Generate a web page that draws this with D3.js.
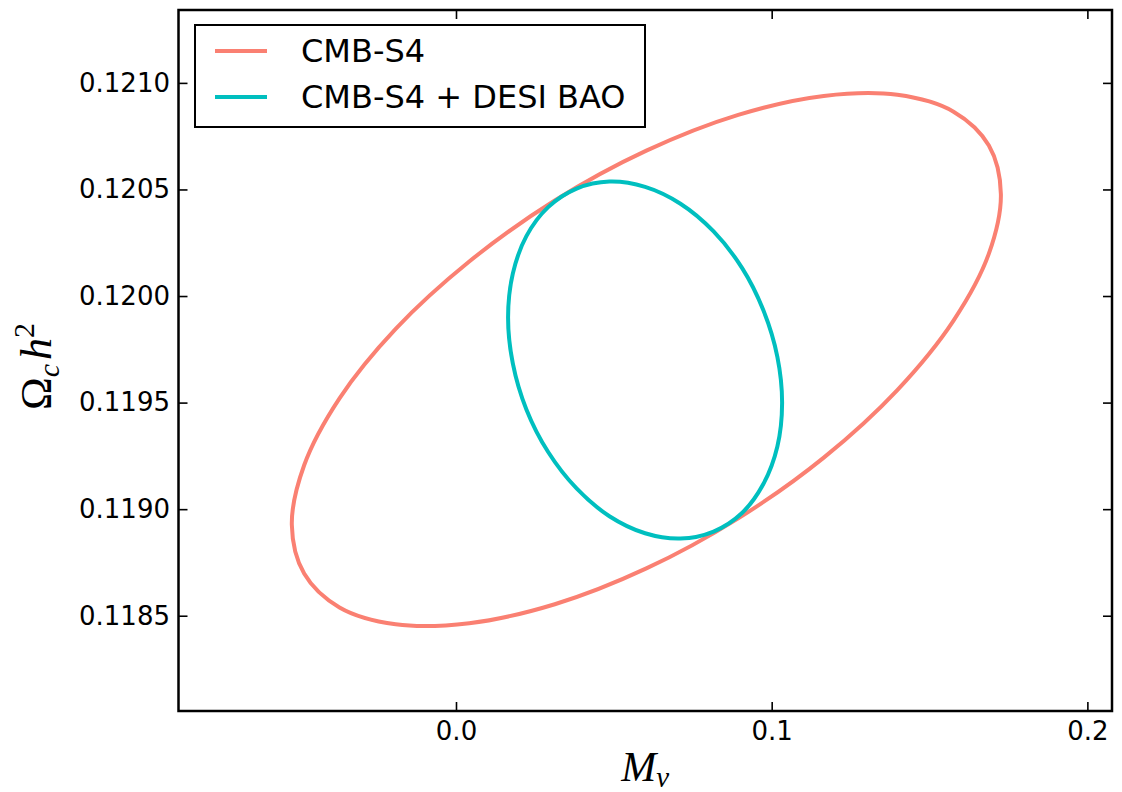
<!DOCTYPE html>
<html>
<head>
<meta charset="utf-8">
<script src="https://cdn.jsdelivr.net/npm/d3@7"></script>
<style>
  body { margin: 0; background: #fff; }
  svg { display: block; }
  .tick text { font-family: "DejaVu Sans", sans-serif; font-size: 26px; fill: #000; }
  .tick line { stroke: #000; stroke-width: 1.6; }
</style>
</head>
<body>
<svg id="chart" width="1122" height="792"></svg>
<script>
// contour points (M_nu, Omega_c h^2)
const s4X = [0.1726, 0.1688, 0.1576, 0.1398, 0.1165, 0.0894, 0.0603, 0.0313, 0.0042, -0.0191, -0.0369, -0.0481,
  -0.0520, -0.0481, -0.0369, -0.0191, 0.0042, 0.0313, 0.0603, 0.0894, 0.1165, 0.1398, 0.1576, 0.1688];
const s4Y = [0.120479, 0.120199, 0.119885, 0.119559, 0.119242, 0.118957, 0.118722, 0.118554, 0.118465, 0.118460, 0.118539, 0.118698,
  0.118926, 0.119206, 0.119520, 0.119846, 0.120162, 0.120448, 0.120682, 0.120850, 0.120939, 0.120944, 0.120865, 0.120706];

const desiX = [0.1033, 0.1018, 0.0974, 0.0906, 0.0816, 0.0711, 0.0599, 0.0486, 0.0382, 0.0292, 0.0223, 0.0180,
  0.0165, 0.0180, 0.0223, 0.0292, 0.0382, 0.0486, 0.0599, 0.0711, 0.0816, 0.0906, 0.0974, 0.1018];
const desiY = [0.119498, 0.119294, 0.119119, 0.118982, 0.118895, 0.118862, 0.118887, 0.118967, 0.119097, 0.119268, 0.119468, 0.119684,
  0.119902, 0.120105, 0.120281, 0.120417, 0.120504, 0.120537, 0.120512, 0.120433, 0.120303, 0.120132, 0.119932, 0.119715];

const seriesNames = ['CMB-S4', 'CMB-S4 + DESI BAO'];
const seriesColors = ['#fa8072', '#00bfbf'];

const xTicks = [0.0, 0.1, 0.2];
const yTicks = [0.1185, 0.1190, 0.1195, 0.1200, 0.1205, 0.1210];
const xDomain = [-0.0879, 0.2078];
const yDomain = [0.118053, 0.121342];

const plot = { left: 178.5, right: 1112, top: 10, bottom: 711 };

const svg = d3.select('#chart');

const x = d3.scaleLinear().domain(xDomain).range([plot.left, plot.right]);
const y = d3.scaleLinear().domain(yDomain).range([plot.bottom, plot.top]);

const series = [
  d3.zip(s4X, s4Y),
  d3.zip(desiX, desiY),
];

const line = d3.line()
  .x((d) => x(d[0]))
  .y((d) => y(d[1]))
  .curve(d3.curveCatmullRomClosed);

series.forEach((pts, i) => {
  svg.append('path')
    .datum(pts)
    .attr('d', line)
    .attr('fill', 'none')
    .attr('stroke', seriesColors[i])
    .attr('stroke-width', 4);
});

// axes, ticks pointing inward on all four sides
const bottomAxis = svg.append('g')
  .attr('transform', `translate(0,${plot.bottom})`)
  .call(d3.axisBottom(x).tickValues(xTicks).tickFormat(d3.format('.1f')).tickSize(-9).tickPadding(10.5));
const topAxis = svg.append('g')
  .attr('transform', `translate(0,${plot.top})`)
  .call(d3.axisTop(x).tickValues(xTicks).tickFormat('').tickSize(-9));
const leftAxis = svg.append('g')
  .attr('transform', `translate(${plot.left},0)`)
  .call(d3.axisLeft(y).tickValues(yTicks).tickFormat(d3.format('.4f')).tickSize(-9).tickPadding(8.5));
const rightAxis = svg.append('g')
  .attr('transform', `translate(${plot.right},0)`)
  .call(d3.axisRight(y).tickValues(yTicks).tickFormat('').tickSize(-9));
[bottomAxis, topAxis, leftAxis, rightAxis].forEach((g) => g.select('.domain').remove());

svg.append('rect')
  .attr('x', plot.left)
  .attr('y', plot.top)
  .attr('width', plot.right - plot.left)
  .attr('height', plot.bottom - plot.top)
  .attr('fill', 'none')
  .attr('stroke', '#000')
  .attr('stroke-width', 2.5);

// axis labels
const xLabel = svg.append('text')
  .attr('x', (plot.left + plot.right) / 2)
  .attr('y', 781)
  .attr('text-anchor', 'middle')
  .attr('font-family', '"Liberation Serif", serif')
  .attr('font-size', 42)
  .attr('font-style', 'italic');
xLabel.append('tspan').text('M');
xLabel.append('tspan').attr('dy', 6).attr('font-size', 29).text('ν');

const yLabel = svg.append('text')
  .attr('transform', `translate(51,${(plot.top + plot.bottom) / 2 + 6}) rotate(-90)`)
  .attr('text-anchor', 'middle')
  .attr('font-family', '"Liberation Serif", serif')
  .attr('font-size', 44);
yLabel.append('tspan').text('Ω');
yLabel.append('tspan').attr('dy', 8).attr('font-size', 30).attr('font-style', 'italic').text('c');
yLabel.append('tspan').attr('dy', -8).attr('dx', 4).attr('font-style', 'italic').text('h');
yLabel.append('tspan').attr('dy', -17).attr('font-size', 30).text('2');

// legend
const legend = svg.append('g');
legend.append('rect')
  .attr('x', 195).attr('y', 25)
  .attr('width', 450).attr('height', 102)
  .attr('fill', '#fff')
  .attr('stroke', '#000')
  .attr('stroke-width', 2);
seriesNames.forEach((name, i) => {
  const cy = 51 + i * 46;
  legend.append('line')
    .attr('x1', 215).attr('x2', 267)
    .attr('y1', cy).attr('y2', cy)
    .attr('stroke', seriesColors[i])
    .attr('stroke-width', 4);
  legend.append('text')
    .attr('x', 301)
    .attr('y', cy + 11)
    .attr('font-family', '"DejaVu Sans", sans-serif')
    .attr('font-size', 32)
    .text(name);
});
</script>
</body>
</html>
